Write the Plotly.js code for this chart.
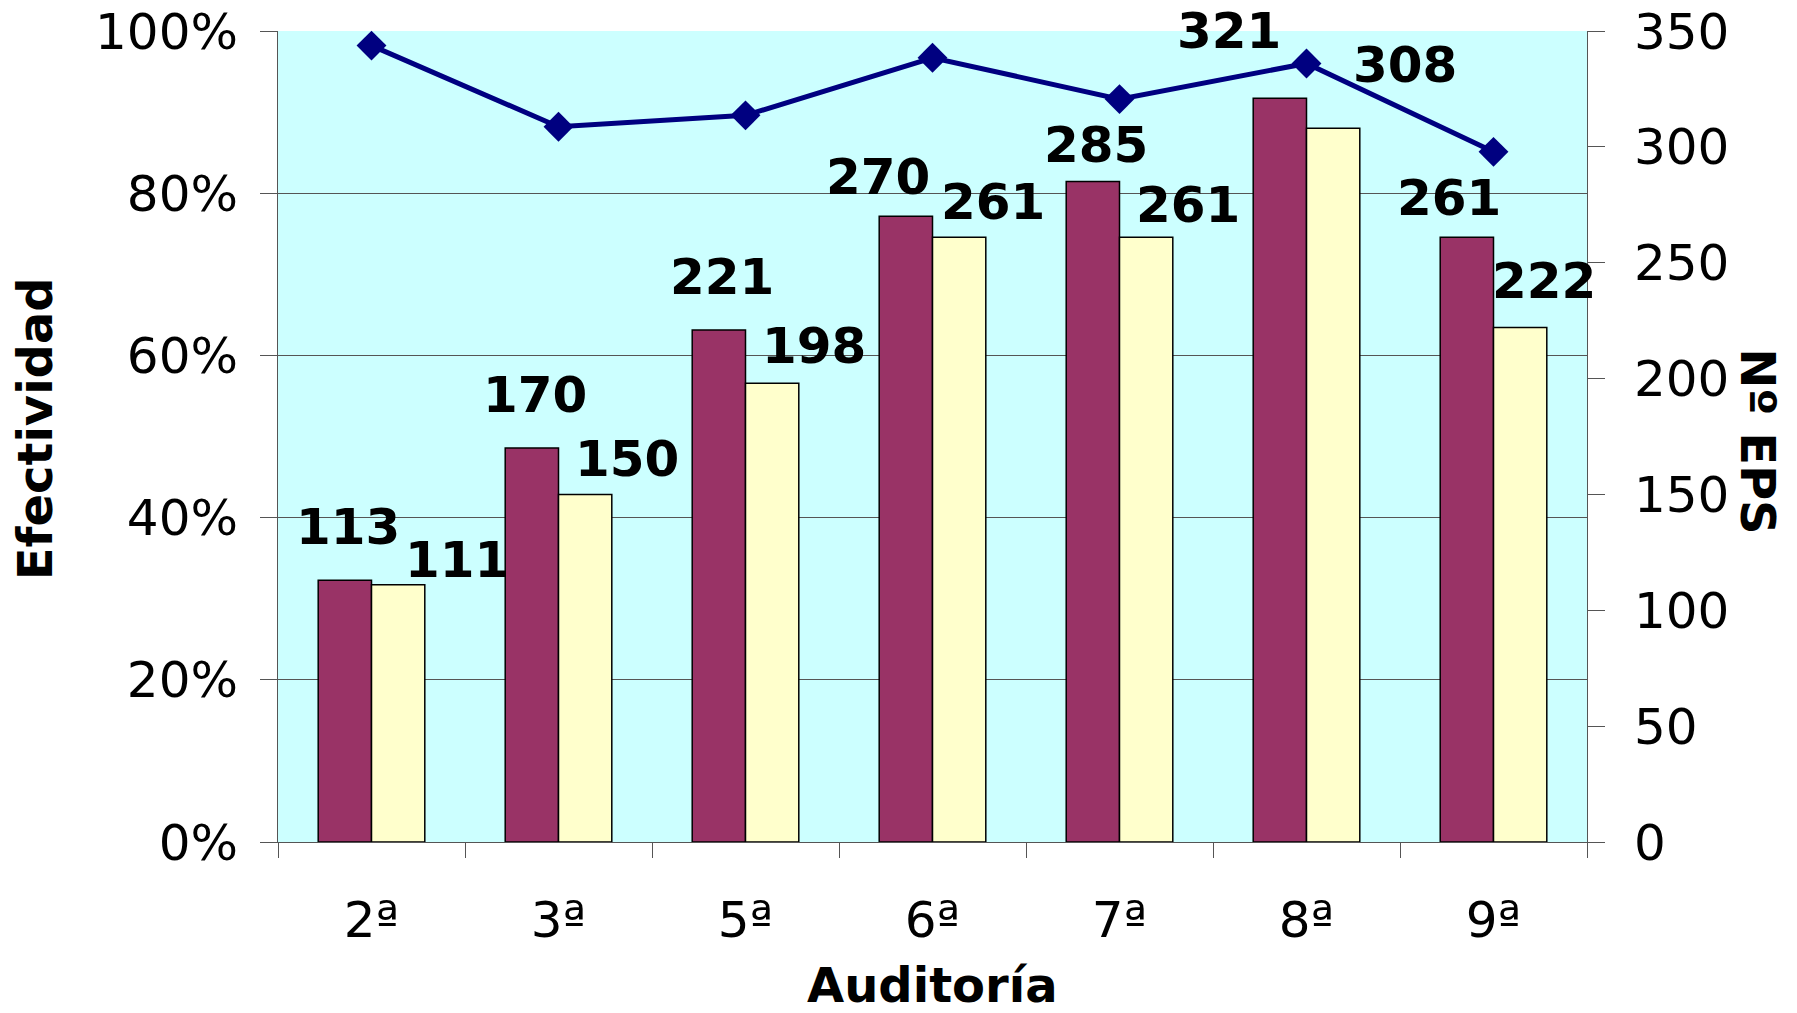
<!DOCTYPE html>
<html><head><meta charset="utf-8">
<script src="https://cdn.plot.ly/plotly-3.0.1.min.js"></script>
<style>html,body{margin:0;padding:0;background:#fff;} #chart{width:1797px;height:1013px;}</style>
</head><body><div id="chart"></div>
<script>
// ---- data ----
const auditorias = ['2ª','3ª','5ª','6ª','7ª','8ª','9ª'];
const epsSerieA = [113, 170, 221, 270, 285, 321, 261];   // maroon bars (Nº EPS)
const epsSerieB = [111, 150, 198, 261, 261, 308, 222];   // light-yellow bars (Nº EPS)
const efectividad = [0.982, 0.882, 0.896, 0.967, 0.916, 0.960, 0.851]; // line (Efectividad)
const leftTicks = [0, 0.2, 0.4, 0.6, 0.8, 1.0];
const rightTicks = [0, 50, 100, 150, 200, 250, 300, 350];

// ---- label placement nudges (pixels, styling only) ----
const nudgeXA = [0, 0, 0, -31, 0, -54, -21];
const nudgeYA = [0, 0, 0, -14, -16, 14, -14];
const nudgeXB = [17, 0, 0, -8, 0, 30, -18];
const nudgeYB = [-18, -8, -6, -8, -11, 20, 4];

const FONT = 'DejaVu Sans, Verdana, sans-serif';
const AX = '#555555';

const traces = [
  {type:'bar', x:auditorias, y:epsSerieA, yaxis:'y', name:'A',
   marker:{color:'#993366', line:{color:'#000000', width:1.5}}, showlegend:false, hoverinfo:'skip'},
  {type:'bar', x:auditorias, y:epsSerieB, yaxis:'y', name:'B',
   marker:{color:'#FFFFCC', line:{color:'#000000', width:1.5}}, showlegend:false, hoverinfo:'skip'},
  {type:'scatter', mode:'lines+markers', x:auditorias, y:efectividad, yaxis:'y2', name:'Efectividad',
   line:{color:'#000080', width:5}, marker:{symbol:'diamond', size:23, color:'#000080'},
   showlegend:false, hoverinfo:'skip', cliponaxis:false}
];

const labelFont = {family:FONT, size:50, color:'#000000', weight:'bold'};
const annotations = [];
auditorias.forEach((c,i)=>{
  annotations.push({x:c, y:epsSerieA[i], xref:'x', yref:'y', text:String(epsSerieA[i]),
    showarrow:false, yanchor:'bottom', xanchor:'center', xshift:-24 + nudgeXA[i], yshift:22 + nudgeYA[i], font:labelFont});
  annotations.push({x:c, y:epsSerieB[i], xref:'x', yref:'y', text:String(epsSerieB[i]),
    showarrow:false, yanchor:'bottom', xanchor:'center', xshift:68 + nudgeXB[i], yshift:12 + nudgeYB[i], font:labelFont});
});
const titleFont = {family:FONT, size:48, color:'#000000', weight:'bold'};
annotations.push({text:'Auditoría', xref:'paper', yref:'paper', x:0.5, y:-0.176, showarrow:false,
  xanchor:'center', yanchor:'middle', font:titleFont});
annotations.push({text:'Efectividad', xref:'paper', yref:'paper', x:-0.185, y:0.51, showarrow:false,
  textangle:-90, xanchor:'center', yanchor:'middle', font:titleFont});
annotations.push({text:'Nº EPS', xref:'paper', yref:'paper', x:1.13, y:0.494, showarrow:false,
  textangle:90, xanchor:'center', yanchor:'middle', font:titleFont});

const layout = {
  width:1797, height:1013,
  margin:{l:278, r:210, t:31, b:171, pad:0},
  paper_bgcolor:'#ffffff', plot_bgcolor:'#CCFFFF',
  font:{family:FONT, size:50, color:'#000000'},
  barmode:'group', bargap:0.43, bargroupgap:0,
  showlegend:false,
  xaxis:{type:'category', range:[-0.5, auditorias.length-0.5], tickson:'boundaries', ticks:'outside', ticklen:15,
    tickcolor:AX, tickwidth:1,
    showline:true, linecolor:AX, linewidth:1, showgrid:false, tickfont:{family:FONT, size:50},
    ticklabelstandoff:34, fixedrange:true},
  yaxis:{side:'right', range:[0,350], tickvals:rightTicks, ticks:'outside', ticklen:17, tickcolor:AX,
    showline:true, linecolor:AX, linewidth:1, showgrid:false, zeroline:false,
    tickfont:{family:FONT, size:50}, ticklabelstandoff:19, fixedrange:true},
  yaxis2:{overlaying:'y', side:'left', range:[0,1], tickvals:leftTicks, tickformat:'.0%',
    ticks:'outside', ticklen:17, tickcolor:AX, showline:true, linecolor:AX, linewidth:1,
    showgrid:true, gridcolor:AX, gridwidth:1, zeroline:false,
    tickfont:{family:FONT, size:50}, ticklabelstandoff:12, fixedrange:true},
  annotations:annotations
};

Plotly.newPlot('chart', traces, layout, {staticPlot:true, displayModeBar:false});
</script>
</body></html>
